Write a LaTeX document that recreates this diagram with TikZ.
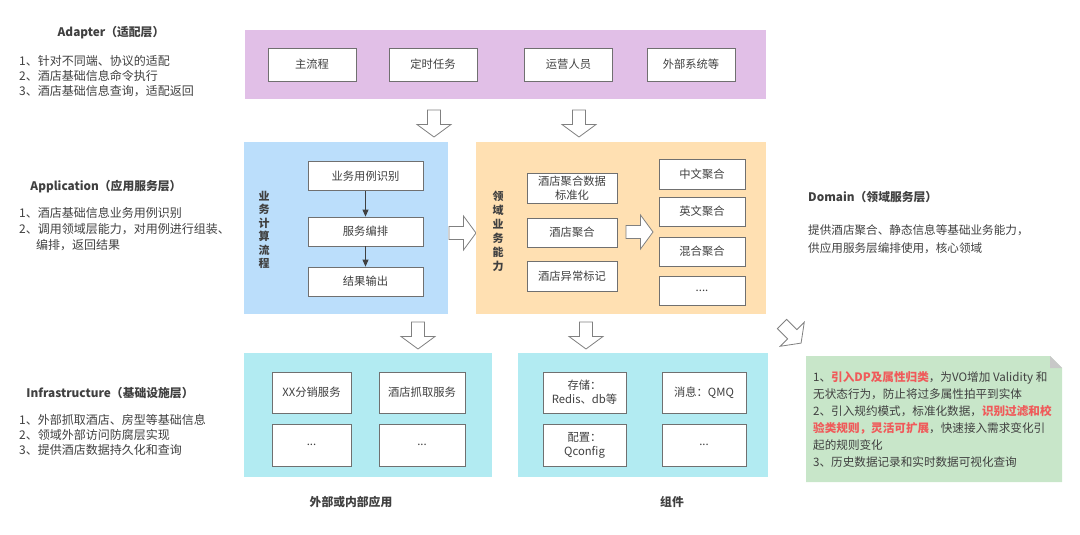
\documentclass[tikz,border=0pt]{standalone}
\usepackage{fontspec}
\setmainfont{Noto Sans CJK SC}
\usetikzlibrary{arrows.meta}
\definecolor{adapterbg}{HTML}{E1BFE7}
\definecolor{appbg}{HTML}{BBDEFB}
\definecolor{dombg}{HTML}{FFE0B2}
\definecolor{infrabg}{HTML}{B2EBF2}
\definecolor{notebg}{HTML}{C8E6C9}
\definecolor{textgray}{HTML}{404040}
\definecolor{boxgray}{HTML}{707070}
\definecolor{redtxt}{HTML}{F05A5A}
\definecolor{arrowgray}{HTML}{808080}
\definecolor{foldgray}{HTML}{C8C8C8}
\newcommand{\redb}[1]{\textcolor{redtxt}{\bfseries #1}}
\begin{document}
\begin{tikzpicture}[x=1pt,y=-1pt,
  layer/.style={draw=none,inner sep=0pt},
  box/.style={draw=boxgray,line width=0.8pt,fill=white,text=textgray,inner sep=0pt,align=center,font=\fontsize{11.3}{14}\selectfont},
  head/.style={text=textgray,inner sep=0pt,font=\bfseries\fontsize{11.8}{14}\selectfont},
  body/.style={text=textgray,inner sep=0pt,align=left,anchor=west},
  vtxt/.style={text=textgray,inner sep=0pt,align=center,font=\bfseries\fontsize{11}{13.5}\selectfont},
  flow/.style={draw=textgray,line width=0.8pt,-{Triangle[length=7pt,width=6pt]}},
  blockarrow/.pic={\draw[draw=arrowgray,fill=white,line width=0.8pt,line join=miter]
     (0,-6.5) -- (14.5,-6.5) -- (14.5,-17) -- (27,0) -- (14.5,17) -- (14.5,6.5) -- (0,6.5) -- cycle;}
]
\useasboundingbox (0,0) rectangle (1080,535);

% ---------- left column ----------
\node[head] (adh) at (111,33) {Adapter（适配层）};
\node[body,font=\fontsize{12}{15}\selectfont] (adb) at (19,76) {1、针对不同端、协议的适配\\2、酒店基础信息命令执行\\3、酒店基础信息查询，适配返回};
\node[head] (aph) at (106,187) {Application（应用服务层）};
\node[body,font=\fontsize{12}{16}\selectfont] (apb) at (19,229) {1、酒店基础信息业务用例识别\\2、调用领域层能力，对用例进行组装、\\\hspace*{17pt}编排，返回结果};
\node[head] (inh) at (110,393) {Infrastructure（基础设施层）};
\node[body,font=\fontsize{12}{15}\selectfont] (inb) at (19,435) {1、外部抓取酒店、房型等基础信息\\2、领域外部访问防腐层实现\\3、提供酒店数据持久化和查询};

% ---------- adapter layer ----------
\node[layer,fill=adapterbg,minimum width=521pt,minimum height=69pt] (adapter) at (505.5,64.5) {};
\node[box,minimum width=88pt,minimum height=33pt] (main) at (312,64.5) {主流程};
\node[box,minimum width=88pt,minimum height=33pt] (timer) at (433,64.5) {定时任务};
\node[box,minimum width=88pt,minimum height=33pt] (ops) at (568.5,64.5) {运营人员};
\node[box,minimum width=88pt,minimum height=33pt] (ext) at (691,64.5) {外部系统等};

\pic at (434,110) [rotate=-90] {blockarrow};
\pic at (579,110) [rotate=-90] {blockarrow};

% ---------- application layer ----------
\node[layer,fill=appbg,minimum width=204pt,minimum height=172pt] (app) at (346,228) {};
\node[vtxt] (appv) at (264,230) {业\\务\\计\\算\\流\\程};
\node[box,minimum width=115pt,minimum height=29pt] (uc) at (365.5,176) {业务用例识别};
\node[box,minimum width=115pt,minimum height=29pt] (orch) at (365.5,231.5) {服务编排};
\node[box,minimum width=115pt,minimum height=29pt] (out) at (365.5,281.5) {结果输出};
\draw[flow] (uc.south) -- (orch.north);
\draw[flow] (orch.south) -- (out.north);

\pic at (449,233) {blockarrow};

% ---------- domain layer ----------
\node[layer,fill=dombg,minimum width=290pt,minimum height=172pt] (dom) at (621,228) {};
\node[vtxt,font=\bfseries\fontsize{11}{14}\selectfont] (domv) at (498,231.5) {领\\域\\业\\务\\能\\力};
\node[box,minimum width=90pt,minimum height=30pt] (std) at (572,188) {酒店聚合数据\\标准化};
\node[box,minimum width=90pt,minimum height=29pt] (agg) at (572,232.5) {酒店聚合};
\node[box,minimum width=90pt,minimum height=30pt] (mark) at (572,276) {酒店异常标记};
\node[box,minimum width=86pt,minimum height=30pt] (zh) at (702,174) {中文聚合};
\node[box,minimum width=86pt,minimum height=29pt] (en) at (702,211.5) {英文聚合};
\node[box,minimum width=86pt,minimum height=29pt] (mix) at (702,251.5) {混合聚合};
\node[box,minimum width=86pt,minimum height=29pt] (more) at (702,290.5) {....};
\pic at (626,232) {blockarrow};

\node[head,anchor=west] (domh) at (808,197) {Domain（领域服务层）};
\node[body,font=\fontsize{11.6}{18}\selectfont] (domb) at (808,239) {提供酒店聚合、静态信息等基础业务能力，\\供应用服务层编排使用，核心领域};

\pic at (418,322) [rotate=-90] {blockarrow};
\pic at (586,322) [rotate=-90] {blockarrow};
\pic at (782,324) [rotate=-45] {blockarrow};

% ---------- infrastructure layer ----------
\node[layer,fill=infrabg,minimum width=248pt,minimum height=124pt] (infl) at (368,415) {};
\node[box,minimum width=79pt,minimum height=41pt] (xx) at (311.5,392.5) {XX分销服务};
\node[box,minimum width=86pt,minimum height=41pt] (crawl) at (422,392.5) {酒店抓取服务};
\node[box,minimum width=79pt,minimum height=42pt] (d1) at (311.5,445) {...};
\node[box,minimum width=86pt,minimum height=42pt] (d2) at (422,445) {...};
\node[head] (extl) at (351,502) {外部或内部应用};

\node[layer,fill=infrabg,minimum width=250pt,minimum height=124pt] (infr) at (643,415) {};
\node[box,minimum width=83pt,minimum height=41pt] (store) at (584.5,392.5) {存储：\\Redis、db等};
\node[box,minimum width=84pt,minimum height=41pt] (msg) at (704,392.5) {消息：QMQ};
\node[box,minimum width=83pt,minimum height=42pt] (conf) at (584.5,445) {配置：\\Qconfig};
\node[box,minimum width=84pt,minimum height=42pt] (d3) at (704,445) {...};
\node[head] (comp) at (672,502) {组件};

% ---------- note ----------
\fill[notebg] (806,356) -- (1050,356) -- (1062,368) -- (1062,482) -- (806,482) -- cycle;
\fill[foldgray] (1050,356) -- (1062,368) -- (1050,368) -- cycle;
\node[body,font=\fontsize{11.6}{17}\selectfont] (notetxt) at (813,419.5) {1、\redb{引入DP及属性归类}，为VO增加 Validity 和\\无状态行为，防止将过多属性拍平到实体\\2、引入规约模式，标准化数据，\redb{识别过滤和校}\\\redb{验类规则，灵活可扩展}，快速接入需求变化引\\起的规则变化\\3、历史数据记录和实时数据可视化查询};
\end{tikzpicture}
\end{document}
